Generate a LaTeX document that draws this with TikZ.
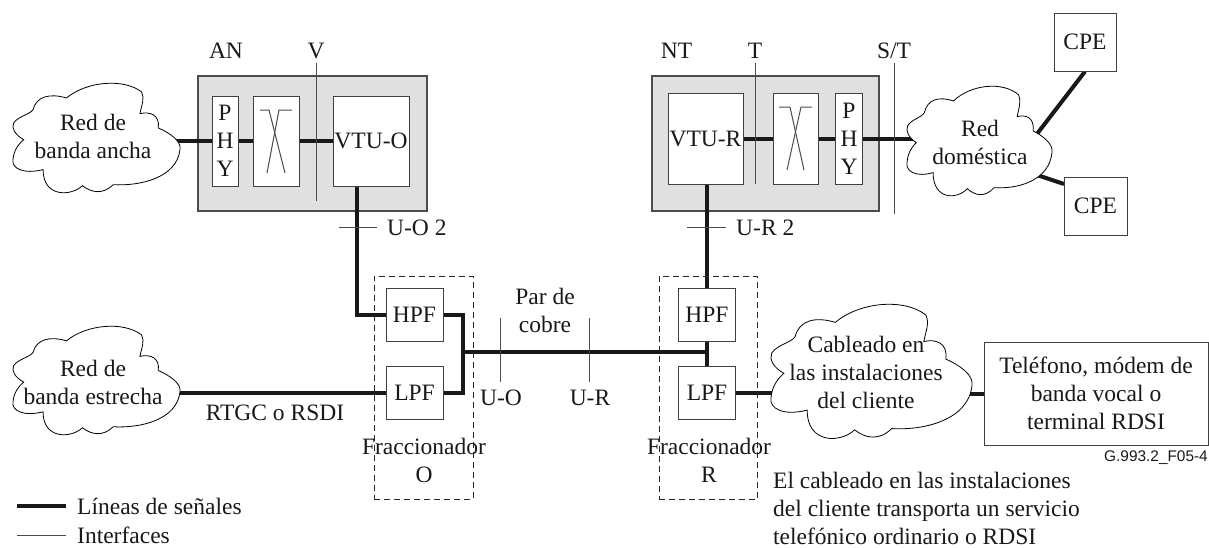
\documentclass[tikz,border=0pt]{standalone}
\usepackage{fontspec}
\setmainfont{Liberation Serif}
\newfontfamily\tagfont{Liberation Sans}
\usepackage{tikz}
\usetikzlibrary{positioning,backgrounds}
\newcommand{\cloudoutline}{(-38,-26) .. controls (-36,-38) and (-28,-41) .. (-18,-36.5)
 .. controls (-6,-51.5) and (16,-54.5) .. (27,-42) .. controls (29,-36) and (27,-30) .. (26,-22.4)
 .. controls (32,-24.5) and (38,-21.5) .. (37,-9.5) .. controls (44,-5) and (51,2.5) .. (50,10)
 .. controls (48,35.6) and (26,43) .. (10,41.6) .. controls (4,50.6) and (-3,49) .. (-8.4,42.5)
 .. controls (-15,52) and (-32,53.6) .. (-32,28) .. controls (-44,32.6) and (-51,26.6) .. (-50,19)
 .. controls (-49.6,10) and (-46,4) .. (-43.6,1) .. controls (-49,-3.5) and (-51,-9.5) .. (-49.6,-14)
 .. controls (-47,-20) and (-40,-21.5) .. (-38,-26) -- cycle}
\begin{document}
\begin{tikzpicture}[x=1pt,y=-1pt,
  every node/.style={font=\fontsize{23.5}{28}\selectfont,inner sep=0pt,align=center,text=black!90},
  box/.style n args={2}{draw=black!75,line width=1pt,fill=white,minimum width=#1,minimum height=#2},
  grayarea/.style n args={2}{draw=black!70,line width=1.2pt,fill=black!12,minimum width=#1,minimum height=#2},
  splitbox/.style n args={2}{draw=black!85,line width=1pt,dash pattern=on 6pt off 4pt,minimum width=#1,minimum height=#2},
  redcloud/.style={draw=black,line width=.8pt,fill=white},
  signal/.style={line width=4pt,black!90},
  iface/.style={line width=1pt,black!70}]
\useasboundingbox (0,0) rectangle (1209,547);
% boxes
\node[box={26}{90}] (phyo) at (225,141) {P\\H\\Y};
\node[box={46}{90}] (filto) at (276,141) {};
\node[box={76}{90}] (vtuo) at (371,141) {VTU-O};
\node[box={75}{91}] (vtur) at (705.5,138.5) {VTU-R};
\node[box={45}{91}] (filtr) at (795.5,138.5) {};
\node[box={26.5}{91}] (phyr) at (849,138.5) {P\\H\\Y};
\node[box={62}{58}] (cpea) at (1085,42) {CPE};
\node[box={63}{58}] (cpeb) at (1095.5,206) {CPE};
\node[box={57}{53}] (hpfo) at (414.5,314.5) {HPF};
\node[box={57}{53}] (lpfo) at (414.5,392.5) {LPF};
\node[box={57}{53}] (hpfr) at (707,314.5) {HPF};
\node[box={57}{53}] (lpfr) at (707,392.5) {LPF};
\node[box={224}{103}] (tel) at (1096,393.5) {Tel\'efono, m\'odem de\\banda vocal o\\terminal RDSI};
\node[splitbox={99}{223}] (splito) at (423.5,387.5) {};
\node[splitbox={98.5}{223}] (splitr) at (708.5,387.5) {};
% clouds
\node (ancha) at (93,136) {Red de\\banda ancha};
\node (domes) at (980,142.5) {Red\\dom\'estica};
\node (estre) at (93,382) {Red de\\banda estrecha};
\node (cable) at (866,372) {Cableado en\\las instalaciones\\del cliente};
% bends
\coordinate (turn) at (356.5,314.5);
\coordinate (joino) at (463,352);
\coordinate (joinr) at (707,352);
\coordinate (cpeaend) at (1030,143);
\coordinate (cpebend) at (1030,172.7);
\coordinate (cpebtop) at (1064,184);
\coordinate (legsa) at (17,506);
\coordinate (legsb) at (66,506);
\coordinate (legia) at (17,535);
\coordinate (legib) at (66,535);
\begin{scope}[on background layer]
\node[grayarea={229}{135}] (an) at (312.5,143.5) {};
\node[grayarea={227}{135}] (nt) at (765.5,143.5) {};
\draw[signal] (ancha.center |- phyo.west) -- (phyo.west);
\draw[signal] (phyo.east) -- (filto.west);
\draw[signal] (filto.east) -- (vtuo.west);
\draw[signal] (vtur.east) -- (filtr.west);
\draw[signal] (filtr.east) -- (phyr.west);
\draw[signal] (phyr.east) -- (domes.center |- phyr.east);
\draw[signal] (cpea.south) -- (cpeaend);
\draw[signal] (cpebtop) -- (cpebend);
\draw[signal] (vtuo.south -| turn) -- (turn) -- (hpfo.west);
\draw[signal] (hpfo.east) -| (joino) |- (lpfo.east);
\draw[signal] (joino) -- (joinr);
\draw[signal] (estre.center |- lpfo.west) -- (lpfo.west);
\draw[signal] (hpfr.north |- vtur.south) -- (hpfr.north);
\draw[signal] (hpfr.south) -- (lpfr.north);
\draw[signal] (lpfr.east) -- (cable.center |- lpfr.east);
\draw[signal] (cable.center |- tel.west) -- (tel.west);
\draw[redcloud,shift={(ancha.center)},shift={(3.5,2.5)},xscale=1.67,yscale=1.11] \cloudoutline;
\draw[redcloud,shift={(domes.center)},shift={(-0.5,-1)},xscale=1.45,yscale=1.11] \cloudoutline;
\draw[redcloud,shift={(estre.center)},shift={(3.5,-1)},xscale=1.67,yscale=1.10] \cloudoutline;
\draw[redcloud,shift={(cable.center)},shift={(5.5,0)},xscale=2.01,yscale=1.36] \cloudoutline;
\end{scope}
% filter marks
\draw[iface] (260,110) -- (269,110) -- (285,173);
\draw[iface] (292,110) -- (279,110) -- (267,173);
\draw[iface] (779,107) -- (790,107) -- (804,170);
\draw[iface] (812,107) -- (801,107) -- (787,170);
% interfaces
\coordinate (va) at (316,63);
\coordinate (vb) at (316,201);
\coordinate (ta) at (755,63);
\coordinate (tb) at (755,184);
\coordinate (sta) at (894,63);
\coordinate (stb) at (894,214);
\coordinate (uoa) at (339,227);
\coordinate (uob) at (377,227);
\coordinate (ura) at (687,227);
\coordinate (urb) at (726,227);
\coordinate (ula) at (500.5,318);
\coordinate (ulb) at (500.5,382);
\coordinate (rla) at (589,318);
\coordinate (rlb) at (589,382);
\draw[iface] (va) -- (vb);
\draw[iface] (ta) -- (tb);
\draw[iface] (sta) -- (stb);
\draw[iface] (uoa) -- (uob);
\draw[iface] (ura) -- (urb);
\draw[iface] (ula) -- (ulb);
\draw[iface] (rla) -- (rlb);
% labels
\node (lan) at (226,51) {AN};
\node (lv) at (316,51) {V};
\node (lnt) at (676.5,51) {NT};
\node (lt) at (755,51) {T};
\node (lst) at (894,51) {S/T};
\node[right] (luo) at (387,228) {U-O 2};
\node[right] (lur) at (736,228) {U-R 2};
\node (lpar) at (545,310) {Par de\\cobre};
\node (luob) at (501,398) {U-O};
\node (lurb) at (590,398) {U-R};
\node (lred) at (275,413) {RTGC o RSDI};
\node (lfo) at (424,460.5) {Fraccionador\\O};
\node (lfr) at (709,460.5) {Fraccionador\\R};
\node[left,font=\tagfont\fontsize{15.4}{17}\selectfont] (ltag) at (1208,458) {G.993.2\_F05-4};
\node[right,align=left] (lnote) at (773,508) {El cableado en las instalaciones\\del cliente transporta un servicio\\telef\'onico ordinario o RDSI};
% legend
\draw[signal] (legsa) -- (legsb);
\draw[iface] (legia) -- (legib);
\node[right] (lsig) at (77,506) {L\'ineas de se\~nales};
\node[right] (lint) at (77,535) {Interfaces};
\end{tikzpicture}
\end{document}
